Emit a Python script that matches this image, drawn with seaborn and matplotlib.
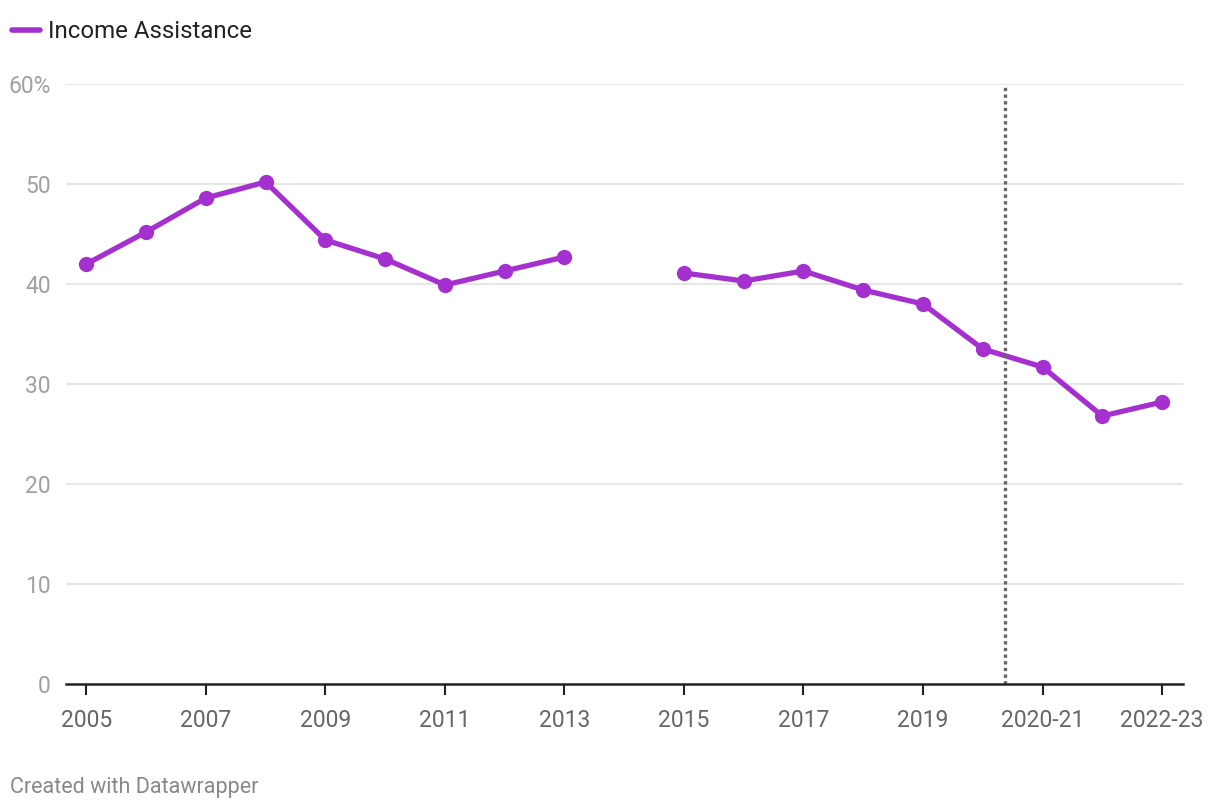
import numpy as np
import pandas as pd
import seaborn as sns
import matplotlib.pyplot as plt

# data
categories = ['2005', '2006', '2007', '2008', '2009', '2010', '2011', '2012', '2013', '2014',
              '2015', '2016', '2017', '2018', '2019', '2020', '2020-21', '2021-22', '2022-23']
income_assistance = [42.0, 45.2, 48.6, 50.2, 44.4, 42.5, 39.9, 41.3, 42.7, np.nan,
                     41.1, 40.3, 41.3, 39.4, 38.0, 33.5, 31.7, 26.8, 28.2]
tick_labels = ['2005', '2007', '2009', '2011', '2013', '2015', '2017', '2019', '2020-21', '2022-23']
y_ticks = [0, 10, 20, 30, 40, 50, 60]

purple = '#a530d0'

df = pd.DataFrame({'period': categories, 'value': income_assistance})
df['pos'] = np.arange(len(df))
# split the line where the value is missing
df['segment'] = df['value'].isna().cumsum()
df = df.dropna()

sns.set_style('white')
plt.rcParams['font.family'] = ['Roboto', 'DejaVu Sans']

fig = plt.figure(figsize=(12.2, 8.1), dpi=100)
ax = fig.add_axes([66 / 1220, 126 / 810, 1117 / 1220, 600 / 810])

sns.lineplot(data=df, x='pos', y='value', units='segment', estimator=None,
             color=purple, linewidth=3.8, marker='o', markersize=11,
             markeredgewidth=0, ax=ax, zorder=3)

# dotted marker between 2020 and 2020-21
ax.axvline(15.37, color='#666666', linestyle=(0, (1, 1)), linewidth=2.4, zorder=4)

ax.set_xlim(-0.34, 18.35)
ax.set_ylim(0, 60)
ax.set_xlabel('')
ax.set_ylabel('')

for y in y_ticks[1:]:
    ax.axhline(y, color='#e2e2e2', linewidth=1.2, zorder=0)

ax.set_yticks(y_ticks)
ax.set_yticklabels([f'{t}%' if t == 60 else str(t) for t in y_ticks],
                   color='#a0a0a0', fontsize=16.5)
ax.tick_params(axis='y', length=0, pad=11)

tick_pos = [categories.index(t) for t in tick_labels]
ax.set_xticks(tick_pos)
ax.set_xticklabels(tick_labels, color='#666666', fontsize=16.5)
ax.tick_params(axis='x', bottom=True, length=8, width=1.5, color='#222222',
               pad=10, direction='out')

for s in ['top', 'right', 'left']:
    ax.spines[s].set_visible(False)
ax.spines['bottom'].set_color('#222222')
ax.spines['bottom'].set_linewidth(1.8)
ax.spines['bottom'].set_zorder(5)

# legend drawn as in the Datawrapper header
fig.add_artist(plt.Line2D([12 / 1220, 40 / 1220], [1 - 30 / 810, 1 - 30 / 810],
                          color=purple, linewidth=4, solid_capstyle='round'))
fig.text(48 / 1220, 1 - 31 / 810, 'Income Assistance', fontsize=17.3,
         color='#222222', va='center', ha='left')

fig.text(10 / 1220, 1 - 787 / 810, 'Created with Datawrapper', fontsize=15.5,
         color='#888888', va='center', ha='left')

fig.savefig('out.png', dpi=100)
